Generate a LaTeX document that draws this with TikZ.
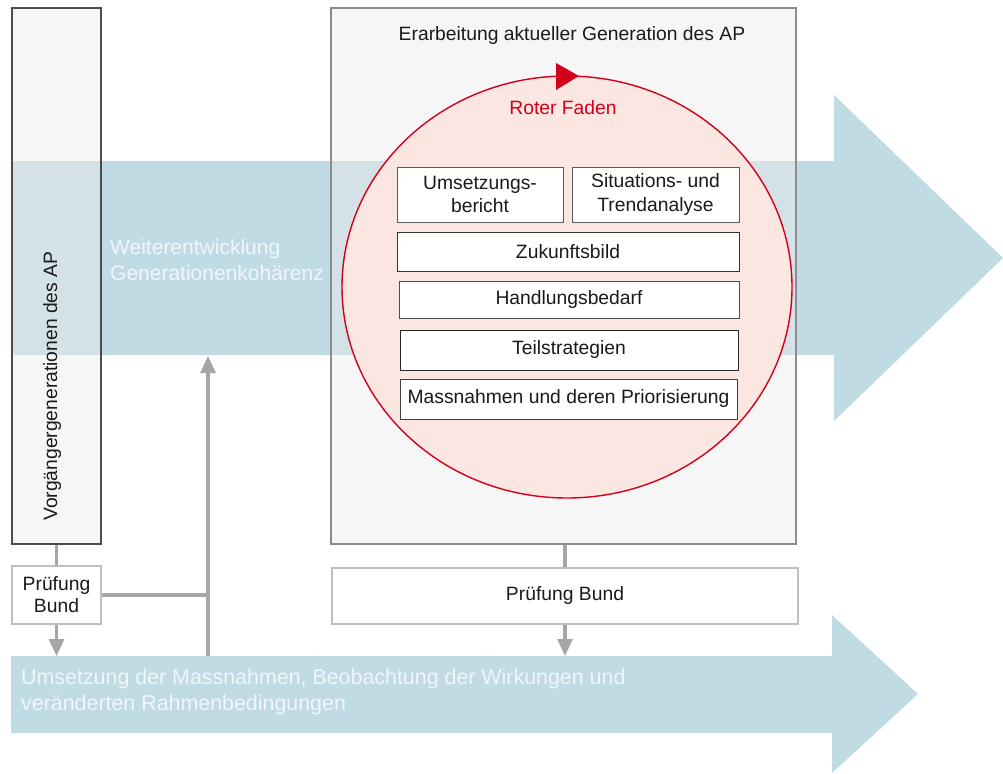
\documentclass[tikz,border=0pt]{standalone}
\usepackage{fontspec}
\setmainfont{Liberation Sans}
\usetikzlibrary{arrows.meta,shapes.geometric}
\definecolor{bandc}{HTML}{C1DBE4}
\definecolor{boxfillc}{HTML}{ECECEC}
\definecolor{cgray}{HTML}{A9A5A3}
\definecolor{rfc}{HTML}{D2001A}
\definecolor{pinkc}{HTML}{FBE6E2}
\definecolor{txtc}{HTML}{1A1A1A}
\definecolor{bandtxtc}{HTML}{F0F6F9}
\newcommand\fsA{\fontsize{19.3}{23.5}\selectfont}
\newcommand\fsB{\fontsize{21}{26}\selectfont}
\newcommand\fsC{\fontsize{21.4}{26}\selectfont}
\begin{document}
\begin{tikzpicture}[x=1pt,y=-1pt,
  band/.style={fill=bandc, draw=none},
  panel/.style={rectangle, draw=#1, line width=1.1pt, fill=boxfillc, fill opacity=0.45, draw opacity=1, inner sep=0pt},
  inbox/.style={rectangle, draw=#1, line width=1pt, fill=white, inner sep=0pt, align=center, font=\fsA, text=txtc},
  pbox/.style={rectangle, draw=#1, line width=1.2pt, fill=white, inner sep=0pt, align=center, font=\fsA, text=txtc},
  lbl/.style={font=\fsA, text=txtc, inner sep=0pt},
  bandlbl/.style={font=\fsB, text=bandtxtc, inner sep=0pt, anchor=base west},
  connline/.style={draw=cgray, line width=3.2pt},
  connarr/.style={connline, -{Triangle[width=15pt,length=17pt]}}
]
\useasboundingbox (0,0) rectangle (1003,773);
% bands
\path[band] (12,161) -- (834,161) -- (834,95) -- (1003,258) -- (834,421) -- (834,355) -- (12,355) -- cycle;
\path[band] (11,656) -- (832,656) -- (832,615) -- (918,694) -- (832,773) -- (832,733) -- (11,733) -- cycle;
% panels
\node[panel=black!70, minimum width=89pt, minimum height=536pt] (lb) at (56.5,276) {};
\node[panel=black!45, minimum width=465pt, minimum height=536pt] (bb) at (563.5,276) {};
% circle
\node[ellipse, draw=rfc, line width=1.4pt, fill=pinkc, minimum width=450pt, minimum height=422pt, inner sep=0pt] (rc) at (567,287) {};
\path[fill=rfc] (556,63) -- (579,76) -- (556,90) -- cycle;
% inner boxes
\node[inbox=black!65, minimum width=166pt, minimum height=55pt] (ub) at (480,194.5) {Umsetzungs-\\bericht};
\node[inbox=black!65, minimum width=167pt, minimum height=55pt] (st) at (655.5,194.5) {Situations- und\\Trendanalyse};
\node[inbox=black!80, minimum width=342pt, minimum height=39pt] (zb) at (568,251.5) {Zukunftsbild};
\node[inbox=black!70, minimum width=340pt, minimum height=37pt] (hb) at (569,299.5) {Handlungsbedarf};
\node[inbox=black!85, minimum width=338pt, minimum height=40pt] (ts) at (569,350) {Teilstrategien};
\node[inbox=black!75, minimum width=337pt, minimum height=40pt] (mp) at (568.5,399) {Massnahmen und deren Priorisierung};
% pruefung boxes
\node[pbox=black!25, minimum width=89pt, minimum height=58pt, font=\fontsize{19.3}{22}\selectfont] (pl) at (56.5,595) {Prüfung\\Bund};
\node[pbox=black!25, minimum width=466pt, minimum height=56pt] (pb) at (565,596) {Prüfung Bund};
% texts
\node[lbl, anchor=base] (title) at (572,41) {Erarbeitung aktueller Generation des AP};
\node[lbl, anchor=base, text=rfc] (rf) at (563,114) {Roter Faden};
\node[lbl, rotate=90, anchor=base west] (vg) at (57,521) {Vorgängergenerationen des AP};
\node[bandlbl] (w1) at (110,254) {Weiterentwicklung};
\node[bandlbl] (w2) at (110,280) {Generationenkohärenz};
\node[bandlbl, font=\fsC] (u1) at (21,684) {Umsetzung der Massnahmen, Beobachtung der Wirkungen und};
\node[bandlbl, font=\fsC] (u2) at (21,710) {veränderten Rahmenbedingungen};
% connectors
\coordinate (b1) at (56.5,656);
\coordinate (jn) at (208,595);
\coordinate (vb) at (208,656);
\coordinate (vt) at (208,356);
\coordinate (b2) at (565,656);
\draw[connline] (lb.south) -- (pl.north);
\draw[connarr] (pl.south) -- (b1);
\draw[connline] (pl.east) -- (jn);
\draw[connarr] (vb) -- (vt);
\draw[connline] (pb.north |- bb.south) -- (pb.north);
\draw[connarr] (pb.south) -- (b2);
\end{tikzpicture}
\end{document}
